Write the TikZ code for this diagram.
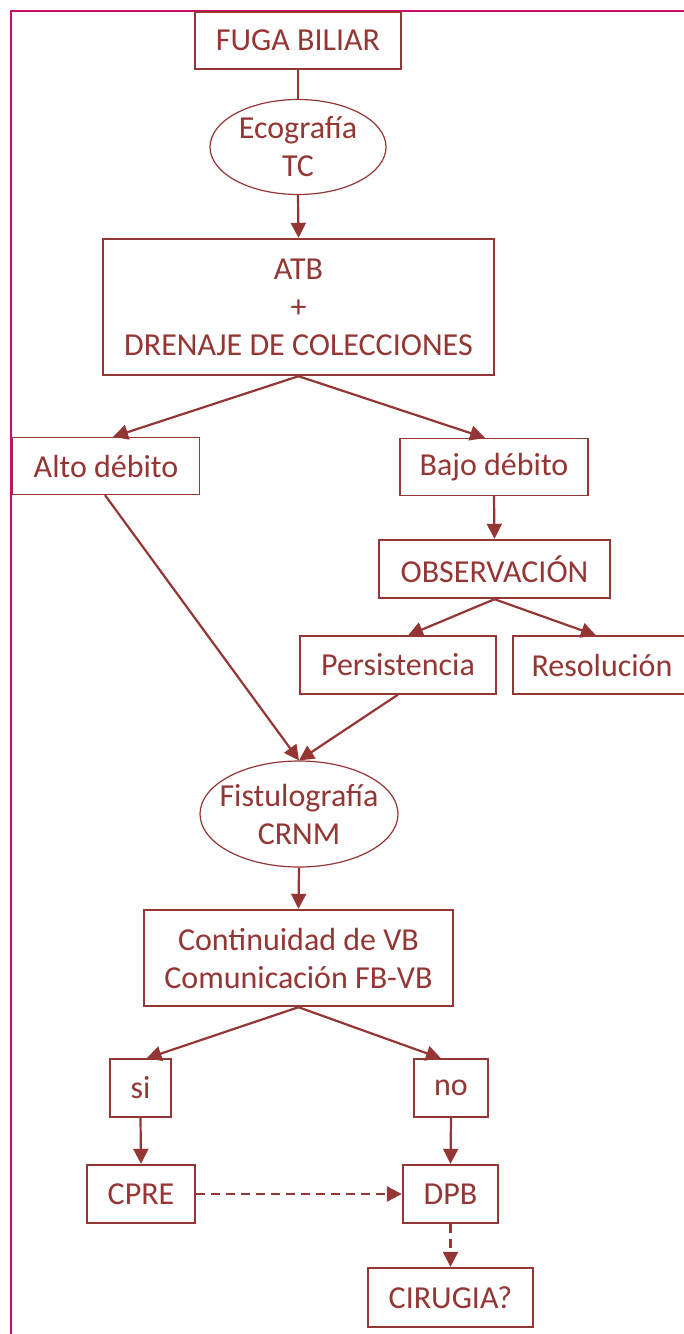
\documentclass[tikz,border=0pt]{standalone}
\usepackage{fontspec}
\setmainfont{Carlito}
\usetikzlibrary{arrows.meta, positioning, shapes.geometric}
\definecolor{cred}{HTML}{943634}
\definecolor{cframe}{HTML}{CC0A6E}
\tikzset{
  every picture/.style={font=\fontsize{32}{38}\selectfont, x=1pt, y=-1pt},
  box/.style={draw=cred, text=cred, line width=2.4pt, align=center, inner sep=0pt},
  lbox/.style={draw=cred, text=cred, line width=1.2pt, align=center, inner sep=0pt},
  oval/.style={ellipse, draw=cred, text=cred, line width=1.2pt, align=center, inner sep=-10pt},
  arrow/.style={-{Triangle[length=15pt, width=15pt]}, draw=cred, line width=2.2pt},
  link/.style={draw=cred, line width=2.2pt},
  dasharrow/.style={arrow, dash pattern=on 9pt off 6pt},
}

\begin{document}
\begin{tikzpicture}
  \clip (0,0) rectangle (684,1334);
  \fill[white] (0,0) rectangle (684,1334);
  \draw[cframe, line width=2pt] (690,11) -- (11,11) -- (11,1340);
  % top part
  \node[box, minimum width=206, minimum height=57] (fuga) at (298,40.5) {FUGA BILIAR};
  \node[oval, minimum width=176, minimum height=95] (eco) at (298,147) {Ecografía\\TC};
  \node[box, minimum width=391, minimum height=136] (atb) at (298.5,307) {ATB\\+\\DRENAJE DE COLECCIONES};
  \node[lbox, minimum width=187, minimum height=57] (alto) at (106,466) {Alto débito};
  \node[lbox, minimum width=188, minimum height=57] (bajo) at (494,467) {Bajo débito};
  \node[box, minimum width=231, minimum height=58] (obs) at (494.5,569) {OBSERVACIÓN};
  \node[lbox, minimum width=196, minimum height=58] (pers) at (398,665) {Persistencia};
  \node[lbox, minimum width=178, minimum height=58] (reso) at (602,665) {Resolución};
  \draw[link] (fuga.south) -- (eco.north);
  \draw[arrow] (eco.south) -- (atb.north);
  \draw[arrow] (atb.south) -- ([xshift=7]alto.north);
  \draw[arrow] (atb.south) -- ([xshift=-9]bajo.north);
  \draw[arrow] (bajo.south) -- (obs.north);
  \draw[arrow] (obs.south) -- ([xshift=10]pers.north);
  \draw[arrow] (obs.south) -- ([xshift=-6]reso.north);
  % lower part
  \node[oval, minimum width=198, minimum height=106] (fistu) at (299,814) {Fistulografía\\CRNM};
  \node[box, minimum width=309, minimum height=96] (cont) at (298.5,958) {Continuidad de VB\\Comunicación FB-VB};
  \node[lbox, minimum width=61, minimum height=58] (si) at (140.5,1088) {si};
  \node[lbox, minimum width=74, minimum height=58] (no) at (451,1088) {no};
  \node[box, minimum width=108, minimum height=58] (cpre) at (141,1194) {CPRE};
  \node[box, minimum width=95, minimum height=58] (dpb) at (450.5,1194) {DPB};
  \node[box, minimum width=165, minimum height=59] (cir) at (450.5,1297.5) {CIRUGIA?};
  \draw[arrow] ([xshift=-1]alto.south) -- (fistu.north);
  \draw[arrow] (pers.south) -- (fistu.north);
  \draw[arrow] (fistu.south) -- (cont.north);
  \draw[arrow] (cont.south) -- ([xshift=6]si.north);
  \draw[arrow] (cont.south) -- ([xshift=-10]no.north);
  \draw[arrow] (si.south) -- (cpre.north);
  \draw[arrow] (no.south) -- (dpb.north);
  \draw[dasharrow] (cpre.east) -- (dpb.west);
  \draw[dasharrow] (dpb.south) -- (cir.north);
\end{tikzpicture}
\end{document}
